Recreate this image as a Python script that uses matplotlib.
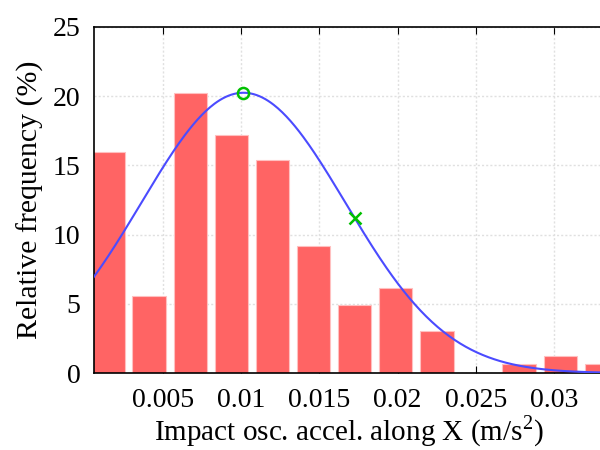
import numpy as np
import matplotlib.pyplot as plt

# histogram bins (centres, m/s^2) and relative frequencies (%)
bin_centers = [0.00151, 0.00413, 0.00676, 0.00938, 0.01201, 0.01463, 0.01726,
               0.01988, 0.02251, 0.02513, 0.02776, 0.03039, 0.03301]
rel_freq = [16.0, 5.55, 20.25, 17.2, 15.37, 9.2, 4.92, 6.14, 3.06, 0.0, 0.63, 1.2, 0.63]
bin_width = 0.00213

# fitted normal curve parameters
fit_mean = 0.01015
fit_sigma = 0.00653
fit_peak = 20.25
mark_x = 0.01726

xticks = [0.005, 0.01, 0.015, 0.02, 0.025, 0.03]
xtick_labels = ["0.005", "0.01", "0.015", "0.02", "0.025", "0.03"]
yticks = [0, 5, 10, 15, 20, 25]

plt.rcParams['font.family'] = ['Liberation Serif', 'DejaVu Serif']
plt.rcParams['mathtext.fontset'] = 'custom'
plt.rcParams['mathtext.rm'] = 'Liberation Serif'

fig = plt.figure(figsize=(6, 4.5), dpi=100)
ax = fig.add_axes([0.157, 0.171, 0.85, 0.769])

ax.bar(bin_centers, rel_freq, width=bin_width, color='#ff6464',
       edgecolor='#ffc0c0', linewidth=0.8, zorder=2)

xs = np.linspace(0.0, 0.036, 400)
gauss = lambda x: fit_peak * np.exp(-(x - fit_mean) ** 2 / (2 * fit_sigma ** 2))
ax.plot(xs, gauss(xs), color='#4b4bff', lw=1.5, zorder=3)
ax.plot([fit_mean], [gauss(fit_mean)], 'o', mfc='none', mec='#00c000',
        ms=8, mew=1.8, zorder=4)
ax.plot([mark_x], [gauss(mark_x)], 'x', color='#00c000', ms=8, mew=1.8, zorder=4)

ax.set_xlim(0.00062, 0.0332)
ax.set_ylim(0, 25)
ax.set_xticks(xticks)
ax.set_xticklabels(xtick_labels)
ax.set_yticks(yticks)

ax.grid(True, color='#e0e0e0', linestyle=(0, (1.5, 1.5)), linewidth=1.0, zorder=0)
ax.set_axisbelow(True)
ax.tick_params(axis='x', direction='in', top=True, length=5, labelsize=20, pad=11)
ax.tick_params(axis='y', direction='in', length=0, labelsize=20, pad=10)
ax.spines['right'].set_visible(False)
for s in ['left', 'top', 'bottom']:
    ax.spines[s].set_linewidth(1.2)

ax.set_xlabel("Impact osc. accel. along X (m/s$^\\mathrm{2}$)", fontsize=21, labelpad=0)
ax.set_ylabel("Relative frequency (%)", fontsize=21.5, labelpad=6)

plt.savefig("out.png", dpi=100)
plt.close()
